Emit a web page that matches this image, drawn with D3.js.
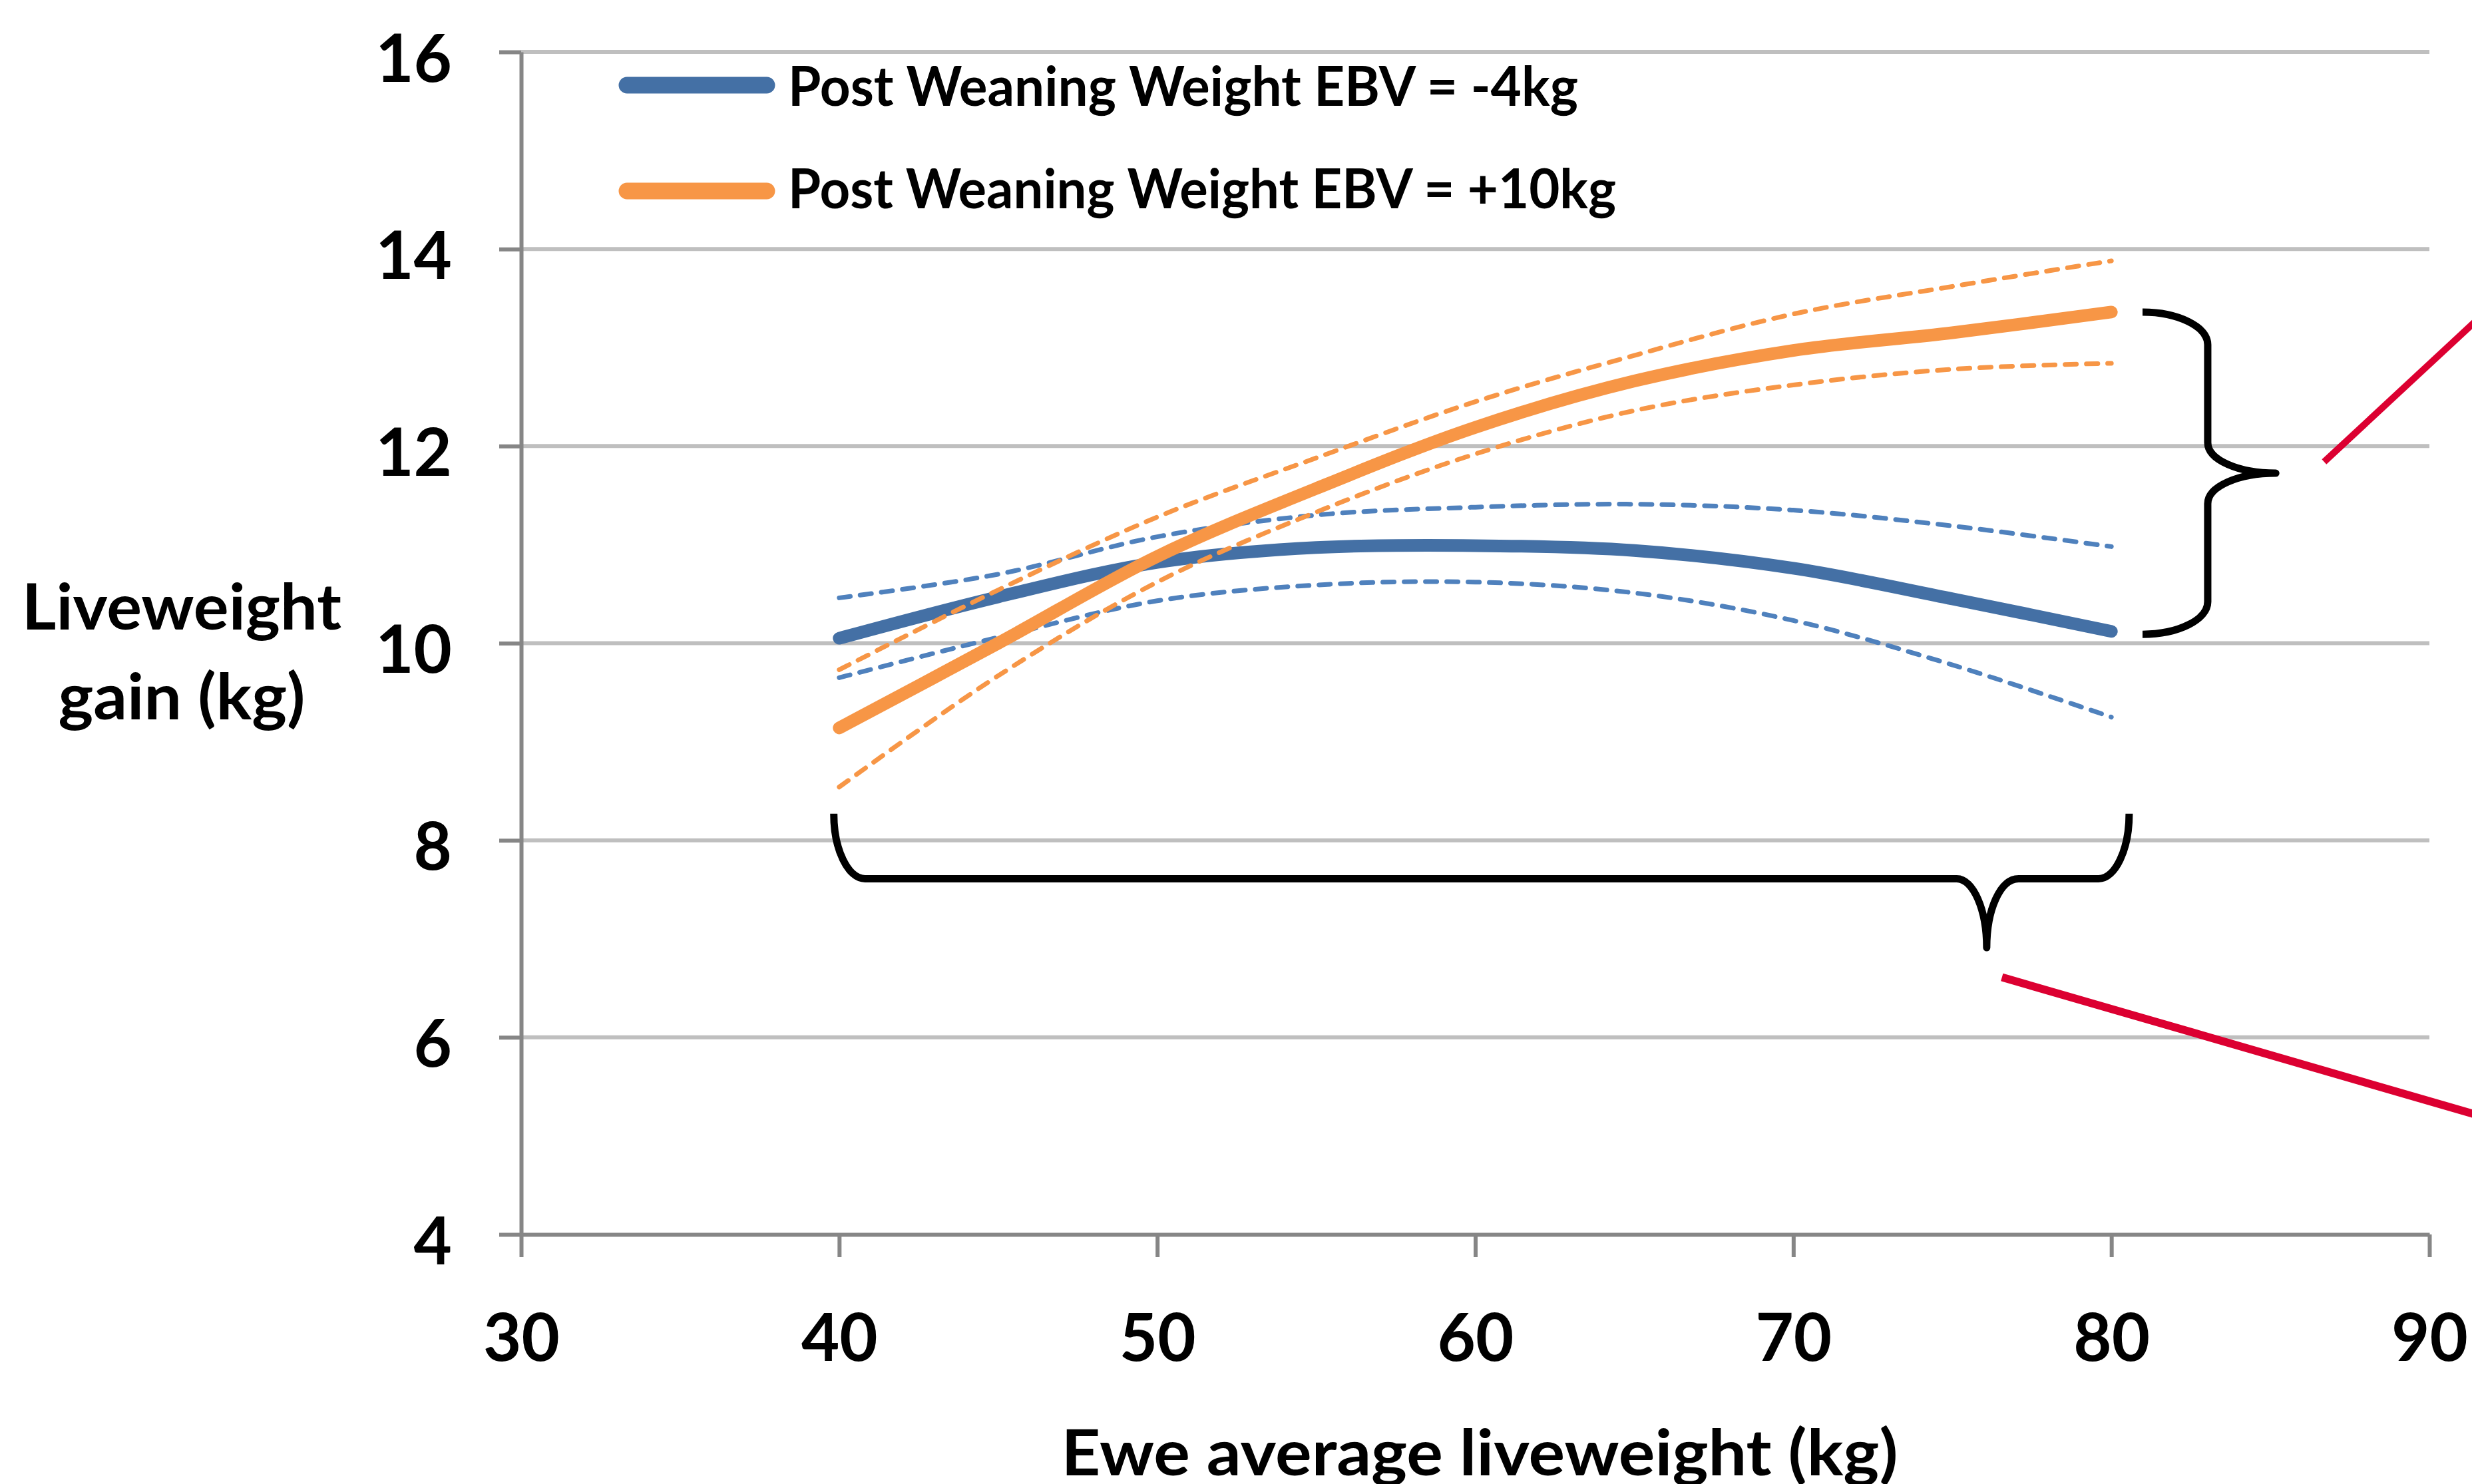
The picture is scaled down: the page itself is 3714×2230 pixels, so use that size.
<!DOCTYPE html>
<html>
<head>
<meta charset="utf-8">
<script src="https://cdn.jsdelivr.net/npm/d3@7/dist/d3.min.js"></script>
<style>
  html, body { margin: 0; padding: 0; background: #ffffff; overflow: hidden; }
  text { font-family: Lato, "Open Sans", "Noto Sans", sans-serif; font-weight: 700; fill: #000; }
</style>
</head>
<body>
<svg id="chart" width="3714" height="2230"></svg>
<script>
// ---------------- data ----------------
const eweWeight = [40, 45, 50, 55, 60, 65, 70, 75, 80];

// Post Weaning Weight EBV = -4kg
const lowEbvMean  = [10.05, 10.47, 10.82, 10.97, 10.99, 10.94, 10.76, 10.45, 10.12];
const lowEbvUpper = [10.46, 10.70, 11.08, 11.30, 11.38, 11.41, 11.35, 11.19, 10.98];
const lowEbvLower = [9.65, 10.06, 10.43, 10.59, 10.62, 10.51, 10.23, 9.78, 9.25];

// Post Weaning Weight EBV = +10kg
const highEbvMean  = [9.14, 10.00, 10.88, 11.57, 12.19, 12.66, 12.97, 13.15, 13.36];
const highEbvUpper = [9.73, 10.54, 11.28, 11.88, 12.45, 12.92, 13.34, 13.62, 13.88];
const highEbvLower = [8.54, 9.67, 10.62, 11.33, 11.92, 12.36, 12.62, 12.78, 12.84];

const xTickValues = [30, 40, 50, 60, 70, 80, 90];
const yTickValues = [4, 6, 8, 10, 12, 14, 16];
const legendLabels = ["Post Weaning Weight EBV = -4kg", "Post Weaning Weight EBV = +10kg"];
const xAxisTitle = "Ewe average liveweight (kg)";
const yAxisTitleLines = ["Liveweight", "gain (kg)"];

// ---------------- layout ----------------
const svg = d3.select("#chart");
const x = d3.scaleLinear().domain([30, 90]).range([783, 3650]);
const y = d3.scaleLinear().domain([4, 16]).range([1855, 78]);

const AXIS_COLOR = "#868686";
const GRID_COLOR = "#bfbfbf";
const BLUE = "#4470a5";
const BLUE_DASH = "#4f81bd";
const ORANGE = "#f79646";
const RED = "#dc0031";

// gridlines
svg.append("g")
  .selectAll("line")
  .data(yTickValues.filter(v => v !== 4))
  .join("line")
  .attr("x1", x(30)).attr("x2", x(90))
  .attr("y1", d => y(d)).attr("y2", d => y(d))
  .attr("stroke", GRID_COLOR).attr("stroke-width", 6);

// y axis
const yAxis = svg.append("g")
  .attr("transform", `translate(${x(30)},0)`)
  .call(d3.axisLeft(y).tickValues(yTickValues).tickSize(33).tickSizeOuter(0).tickPadding(71).tickFormat(d3.format("d")));
yAxis.select(".domain").attr("stroke", AXIS_COLOR).attr("stroke-width", 6);
yAxis.selectAll(".tick line").attr("stroke", AXIS_COLOR).attr("stroke-width", 6);
yAxis.selectAll(".tick text")
  .attr("dy", null).attr("y", 44)
  .style("font-size", "99px").style("font-family", "Lato, sans-serif").style("font-weight", 700).attr("fill", "#000");

// x axis
const xAxis = svg.append("g")
  .attr("transform", `translate(0,${y(4)})`)
  .call(d3.axisBottom(x).tickValues(xTickValues).tickSize(34).tickSizeOuter(0).tickFormat(d3.format("d")));
xAxis.select(".domain").attr("stroke", AXIS_COLOR).attr("stroke-width", 6);
xAxis.selectAll(".tick line").attr("stroke", AXIS_COLOR).attr("stroke-width", 6);
xAxis.selectAll(".tick text")
  .attr("dy", null).attr("y", 190)
  .style("font-size", "99px").style("font-family", "Lato, sans-serif").style("font-weight", 700).attr("fill", "#000");

// ---------------- series ----------------
const line = d3.line()
  .x(d => x(d[0]))
  .y(d => y(d[1]))
  .curve(d3.curveCatmullRom.alpha(0.5));
const pts = vals => eweWeight.map((w, i) => [w, vals[i]]);

const series = [
  { vals: lowEbvMean,  color: BLUE,      width: 19, dash: null },
  { vals: lowEbvUpper, color: BLUE_DASH, width: 7,  dash: "17,15" },
  { vals: lowEbvLower, color: BLUE_DASH, width: 7,  dash: "17,15" },
  { vals: highEbvUpper, color: ORANGE,   width: 7,  dash: "17,15" },
  { vals: highEbvLower, color: ORANGE,   width: 7,  dash: "17,15" },
  { vals: highEbvMean,  color: ORANGE,   width: 19, dash: null }
];
svg.append("g")
  .selectAll("path")
  .data(series)
  .join("path")
  .attr("d", s => line(pts(s.vals)))
  .attr("fill", "none")
  .attr("stroke", s => s.color)
  .attr("stroke-width", s => s.width)
  .attr("stroke-linecap", "round")
  .attr("stroke-linejoin", "round")
  .attr("stroke-dasharray", s => s.dash);

// ---------------- legend ----------------
const legendColors = [BLUE, ORANGE];
const legendRowY = [128, 287];
const legendTextLen = [1187, 1244];
const lg = svg.append("g");
legendLabels.forEach((lab, i) => {
  lg.append("line")
    .attr("x1", 942).attr("x2", 1152)
    .attr("y1", legendRowY[i]).attr("y2", legendRowY[i])
    .attr("stroke", legendColors[i]).attr("stroke-width", 25).attr("stroke-linecap", "round");
  lg.append("text")
    .attr("x", 1184).attr("y", legendRowY[i] + (i === 0 ? 31 : 26))
    .attr("textLength", legendTextLen[i]).attr("lengthAdjust", "spacingAndGlyphs")
    .style("font-size", "82px")
    .text(lab);
});

// ---------------- axis titles ----------------
svg.append("text")
  .attr("x", 2223).attr("y", 2217)
  .attr("text-anchor", "middle")
  .attr("textLength", 1257).attr("lengthAdjust", "spacingAndGlyphs")
  .style("font-size", "96px")
  .text(xAxisTitle);

const yTitleBase = [946, 1081];
const yTitleLen = [480, 371];
yAxisTitleLines.forEach((t, i) => {
  svg.append("text")
    .attr("x", 273).attr("y", yTitleBase[i])
    .attr("text-anchor", "middle")
    .attr("textLength", yTitleLen[i]).attr("lengthAdjust", "spacingAndGlyphs")
    .style("font-size", "95px")
    .text(t);
});

// ---------------- annotations (braces & pointers) ----------------
// right brace spanning the two curve ends at 80 kg
{
  const x0 = x(80.98), x1 = x(83.03), xt = x(85.17);
  const yt = y(highEbvMean[8]), yb = y(lowEbvMean[8] - 0.03), ym = (yt + yb) / 2;
  const r = 49;
  const p = d3.path();
  p.moveTo(x0, yt);
  p.bezierCurveTo(x0 + 0.55 * (x1 - x0), yt, x1, yt + 0.45 * r, x1, yt + r);
  p.lineTo(x1, ym - 46);
  p.bezierCurveTo(x1, ym - 20, x1 + 0.45 * (xt - x1), ym, xt, ym);
  p.bezierCurveTo(x1 + 0.45 * (xt - x1), ym, x1, ym + 20, x1, ym + 46);
  p.lineTo(x1, yb - r);
  p.bezierCurveTo(x1, yb - 0.45 * r, x0 + 0.55 * (x1 - x0), yb, x0, yb);
  svg.append("path").attr("d", p.toString())
    .attr("fill", "none").attr("stroke", "#000").attr("stroke-width", 11)
    .attr("stroke-linejoin", "round");
}
// bottom brace spanning 40-80 kg
{
  const xl = x(39.83), xr = x(80.56), xtip = x(76.08);
  const yTopEnd = y(8.27), yh = y(7.61), ytip = y(6.91);
  const cl = 47, cr = 46, tw = 45;
  const p = d3.path();
  p.moveTo(xl, yTopEnd);
  p.bezierCurveTo(xl, yTopEnd + 0.55 * (yh - yTopEnd), xl + 0.45 * cl, yh, xl + cl, yh);
  p.lineTo(xtip - tw, yh);
  p.bezierCurveTo(xtip - tw + 0.55 * tw, yh, xtip, yh + 0.45 * (ytip - yh), xtip, ytip);
  p.bezierCurveTo(xtip, yh + 0.45 * (ytip - yh), xtip + tw - 0.55 * tw, yh, xtip + tw + 3, yh);
  p.lineTo(xr - cr, yh);
  p.bezierCurveTo(xr - 0.45 * cr, yh, xr, yTopEnd + 0.55 * (yh - yTopEnd), xr, yTopEnd);
  svg.append("path").attr("d", p.toString())
    .attr("fill", "none").attr("stroke", "#000").attr("stroke-width", 11)
    .attr("stroke-linejoin", "round");
}
// red pointer lines running off the right edge
svg.append("line")
  .attr("x1", x(86.69)).attr("y1", y(11.84))
  .attr("x2", x(93.13)).attr("y2", y(13.77))
  .attr("stroke", RED).attr("stroke-width", 10);
svg.append("line")
  .attr("x1", x(76.56)).attr("y1", y(6.61))
  .attr("x2", x(93.13)).attr("y2", y(5.06))
  .attr("stroke", RED).attr("stroke-width", 12);
</script>
</body>
</html>
